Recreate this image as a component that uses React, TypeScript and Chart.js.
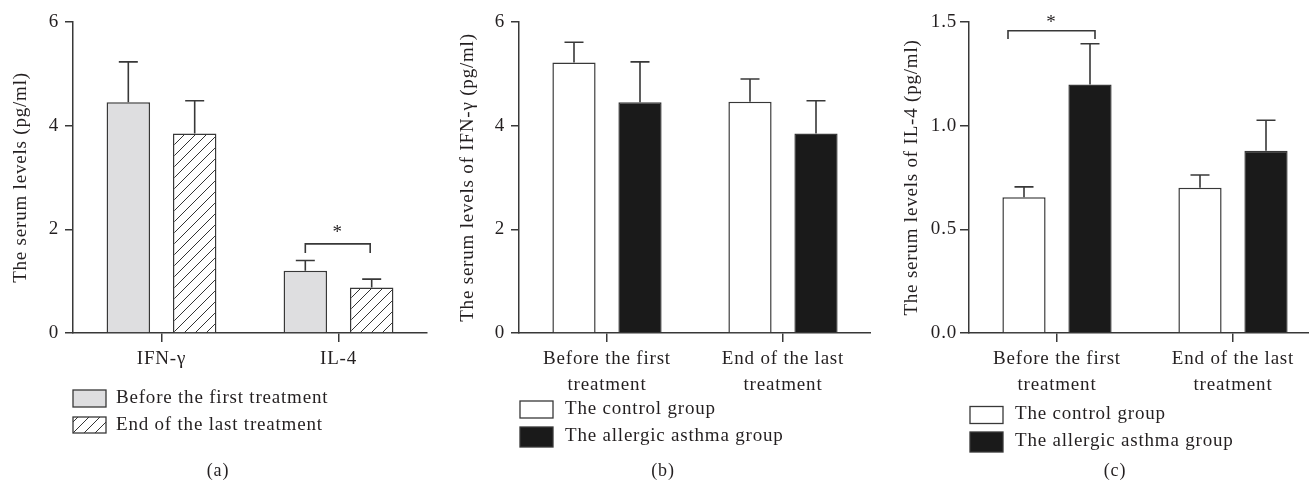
import React, { useEffect, useRef } from 'react';
import { Chart, registerables } from 'chart.js';

Chart.register(...registerables);

// ---------- data ----------
const panelACategories = ['IFN-γ', 'IL-4'];
const panelABefore = [4.45, 1.2];
const panelABeforeSem = [0.78, 0.2];
const panelAEnd = [3.85, 0.88];
const panelAEndSem = [0.63, 0.16];

const treatmentCategories = [
  ['Before the first', 'treatment'],
  ['End of the last', 'treatment'],
];
const panelBControl = [5.22, 4.46];
const panelBControlSem = [0.39, 0.44];
const panelBAsthma = [4.45, 3.85];
const panelBAsthmaSem = [0.78, 0.63];

const panelCControl = [0.655, 0.7];
const panelCControlSem = [0.05, 0.062];
const panelCAsthma = [1.198, 0.879];
const panelCAsthmaSem = [0.197, 0.147];

const yTicksAB = [0, 2, 4, 6];
const yTicksC = [0, 0.5, 1.0, 1.5];

// ---------- styles ----------
const FONT = '"Liberation Serif", "Times New Roman", serif';
const AXIS = '#383838';
const TEXT = '#231f20';
const GRAY = '#dedee0';
const BLACK = '#1a1a1a';
const SPACING = '0.8px';

function makeHatch(): CanvasPattern | string {
  const s = 11;
  const c = document.createElement('canvas');
  c.width = s;
  c.height = s;
  const g = c.getContext('2d');
  if (!g) return '#fff';
  g.fillStyle = '#ffffff';
  g.fillRect(0, 0, s, s);
  g.strokeStyle = '#333';
  g.lineWidth = 1;
  g.beginPath();
  g.moveTo(-1, s + 1);
  g.lineTo(s + 1, -1);
  g.moveTo(-1, 1);
  g.lineTo(1, -1);
  g.moveTo(s - 1, s + 1);
  g.lineTo(s + 1, s - 1);
  g.stroke();
  return g.createPattern(c, 'repeat') || '#fff';
}

const spacingPlugin = {
  id: 'spacing',
  beforeDraw(chart: any) {
    try {
      (chart.ctx as any).letterSpacing = SPACING;
    } catch (e) {
      /* ignore */
    }
  },
};

const errorBarPlugin = {
  id: 'errorBars',
  afterDatasetsDraw(chart: any) {
    const ctx = chart.ctx;
    const y = chart.scales.y;
    chart.data.datasets.forEach((ds: any, di: number) => {
      const errs = ds.errors;
      if (!errs) return;
      const meta = chart.getDatasetMeta(di);
      meta.data.forEach((el: any, i: number) => {
        const top = y.getPixelForValue(ds.data[i] + errs[i]);
        ctx.save();
        ctx.strokeStyle = AXIS;
        ctx.lineWidth = 1.6;
        ctx.beginPath();
        ctx.moveTo(el.x, el.y);
        ctx.lineTo(el.x, top);
        ctx.moveTo(el.x - 9.5, top);
        ctx.lineTo(el.x + 9.5, top);
        ctx.stroke();
        ctx.restore();
      });
    });
  },
};

const decorPlugin = {
  id: 'decor',
  afterDraw(chart: any, _args: any, opts: any) {
    const ctx = chart.ctx;
    const y = chart.scales.y;
    ctx.save();
    (ctx as any).letterSpacing = SPACING;
    // legend
    (opts.legend || []).forEach((it: any) => {
      ctx.fillStyle = it.fill;
      ctx.fillRect(it.x, it.y, it.w, it.h);
      ctx.strokeStyle = AXIS;
      ctx.lineWidth = 1.3;
      ctx.strokeRect(it.x, it.y, it.w, it.h);
      ctx.fillStyle = TEXT;
      ctx.font = `19px ${FONT}`;
      ctx.textAlign = 'left';
      ctx.textBaseline = 'middle';
      ctx.fillText(it.label, it.tx, it.ty);
    });
    // significance bracket
    const b = opts.bracket;
    if (b) {
      const e1 = chart.getDatasetMeta(b.from).data[b.index];
      const e2 = chart.getDatasetMeta(b.to).data[b.index];
      const x1 = e1.x + b.dx1;
      const x2 = e2.x + b.dx2;
      const yl = y.getPixelForValue(b.y);
      const yd = y.getPixelForValue(b.drop);
      ctx.strokeStyle = AXIS;
      ctx.lineWidth = 1.6;
      ctx.beginPath();
      ctx.moveTo(x1, yd);
      ctx.lineTo(x1, yl);
      ctx.lineTo(x2, yl);
      ctx.lineTo(x2, yd);
      ctx.stroke();
      ctx.fillStyle = TEXT;
      ctx.font = `19px ${FONT}`;
      ctx.textAlign = 'center';
      ctx.textBaseline = 'alphabetic';
      ctx.fillText('*', (x1 + x2) / 2, yl - b.starGap);
    }
    // caption
    if (opts.caption) {
      ctx.fillStyle = TEXT;
      ctx.font = `18px ${FONT}`;
      ctx.textAlign = 'center';
      ctx.textBaseline = 'middle';
      ctx.fillText(opts.caption.text, opts.caption.x, opts.caption.y);
    }
    ctx.restore();
  },
};

function buildOptions(p: {
  yMax: number;
  yTicks: number[];
  yTitle: string;
  titlePad: number;
  yWidth: number;
  padRight: number;
  tickPad: number;
  yTickLen: number;
  fixed: number;
  decor: any;
}) {
  const font = { family: FONT, size: 19 };
  return {
    responsive: false,
    animation: false as const,
    devicePixelRatio: 1,
    layout: { padding: { top: 22, right: p.padRight, left: 0, bottom: 0 } },
    plugins: {
      legend: { display: false },
      tooltip: { enabled: false },
      decor: p.decor,
    },
    scales: {
      x: {
        type: 'category' as const,
        grid: {
          offset: false,
          drawOnChartArea: false,
          drawTicks: true,
          tickLength: 9,
          color: AXIS,
          lineWidth: 1.5,
        },
        border: { display: true, color: AXIS, width: 1.5 },
        ticks: {
          color: TEXT,
          font: { ...font, lineHeight: 1.36 },
          padding: 4,
          maxRotation: 0,
          autoSkip: false,
        },
        afterFit: (s: any) => {
          s.height = 155;
        },
      },
      y: {
        min: 0,
        max: p.yMax,
        afterBuildTicks: (s: any) => {
          s.ticks = p.yTicks.map((v) => ({ value: v }));
        },
        ticks: {
          color: TEXT,
          font,
          padding: p.tickPad,
          callback: (v: any) => Number(v).toFixed(p.fixed),
        },
        grid: {
          drawOnChartArea: false,
          drawTicks: true,
          tickLength: p.yTickLen,
          color: AXIS,
          lineWidth: 1.5,
        },
        border: { display: true, color: AXIS, width: 1.5 },
        title: {
          display: true,
          text: p.yTitle,
          color: TEXT,
          font: { family: FONT, size: 19, lineHeight: 1.2 },
          padding: { top: p.titlePad, bottom: 0 },
        },
        afterFit: (s: any) => {
          s.width = p.yWidth;
        },
      },
    },
  };
}

function barDs(label: string, data: number[], errors: number[], fill: any) {
  return {
    label,
    data,
    errors,
    backgroundColor: fill,
    borderColor: AXIS,
    borderWidth: 1.5,
    categoryPercentage: 0.75,
    barPercentage: 0.655,
  } as any;
}

function Panel({ left, width, make }: { left: number; width: number; make: (hatch: any) => any }) {
  const ref = useRef<HTMLCanvasElement>(null);
  useEffect(() => {
    if (!ref.current) return;
    const hatch = makeHatch();
    const chart = new Chart(ref.current, make(hatch));
    return () => chart.destroy();
  }, []);
  return (
    <canvas
      ref={ref}
      width={width}
      height={488}
      style={{ position: 'absolute', left, top: 0, width, height: 488 }}
    />
  );
}

const makeA = (hatch: any) => ({
  type: 'bar',
  data: {
    labels: panelACategories,
    datasets: [
      barDs('Before the first treatment', panelABefore, panelABeforeSem, GRAY),
      barDs('End of the last treatment', panelAEnd, panelAEndSem, hatch),
    ],
  },
  options: buildOptions({
    yMax: 6,
    yTicks: yTicksAB,
    yTitle: 'The serum levels (pg/ml)',
    titlePad: 10,
    yWidth: 73,
    padRight: 8,
    tickPad: 6,
    yTickLen: 8,
    fixed: 0,
    decor: {
      legend: [
        { label: 'Before the first treatment', fill: GRAY, x: 73, y: 390, w: 33, h: 17, tx: 116, ty: 398.5 },
        { label: 'End of the last treatment', fill: hatch, x: 73, y: 417, w: 33, h: 16, tx: 116, ty: 425 },
      ],
      bracket: { index: 1, from: 0, to: 1, y: 1.72, drop: 1.545, dx1: 0, dx2: -1.5, starGap: 6 },
      caption: { text: '(a)', x: 218, y: 471 },
    },
  }),
  plugins: [spacingPlugin, errorBarPlugin, decorPlugin],
});

const makeB = () => ({
  type: 'bar',
  data: {
    labels: treatmentCategories,
    datasets: [
      barDs('The control group', panelBControl, panelBControlSem, '#ffffff'),
      barDs('The allergic asthma group', panelBAsthma, panelBAsthmaSem, BLACK),
    ],
  },
  options: buildOptions({
    yMax: 6,
    yTicks: yTicksAB,
    yTitle: 'The serum levels of IFN-γ (pg/ml)',
    titlePad: 22,
    yWidth: 84,
    padRight: 0,
    tickPad: 6,
    yTickLen: 8,
    fixed: 0,
    decor: {
      legend: [
        { label: 'The control group', fill: '#ffffff', x: 85, y: 401, w: 33, h: 17, tx: 130, ty: 409 },
        { label: 'The allergic asthma group', fill: BLACK, x: 85, y: 427, w: 33, h: 20, tx: 130, ty: 436 },
      ],
      caption: { text: '(b)', x: 228, y: 471 },
    },
  }),
  plugins: [spacingPlugin, errorBarPlugin, decorPlugin],
});

const makeC = () => ({
  type: 'bar',
  data: {
    labels: treatmentCategories,
    datasets: [
      barDs('The control group', panelCControl, panelCControlSem, '#ffffff'),
      barDs('The allergic asthma group', panelCAsthma, panelCAsthmaSem, BLACK),
    ],
  },
  options: buildOptions({
    yMax: 1.5,
    yTicks: yTicksC,
    yTitle: 'The serum levels of IL-4 (pg/ml)',
    titlePad: 31,
    yWidth: 99,
    padRight: 0,
    tickPad: 3,
    yTickLen: 9,
    fixed: 1,
    decor: {
      legend: [
        { label: 'The control group', fill: '#ffffff', x: 100, y: 406.5, w: 33, h: 17, tx: 145, ty: 414.5 },
        { label: 'The allergic asthma group', fill: BLACK, x: 100, y: 432, w: 33, h: 20, tx: 145, ty: 441 },
      ],
      bracket: { index: 0, from: 0, to: 1, y: 1.458, drop: 1.418, dx1: -16, dx2: 5, starGap: 3 },
      caption: { text: '(c)', x: 245, y: 471 },
    },
  }),
  plugins: [spacingPlugin, errorBarPlugin, decorPlugin],
});

export default function App() {
  return (
    <div
      style={{
        position: 'fixed',
        left: 0,
        top: 0,
        width: 1309,
        height: 488,
        overflow: 'hidden',
        background: '#ffffff',
      }}
    >
      <Panel left={0} width={435} make={makeA} />
      <Panel left={435} width={436} make={makeB} />
      <Panel left={870} width={451} make={makeC} />
    </div>
  );
}
